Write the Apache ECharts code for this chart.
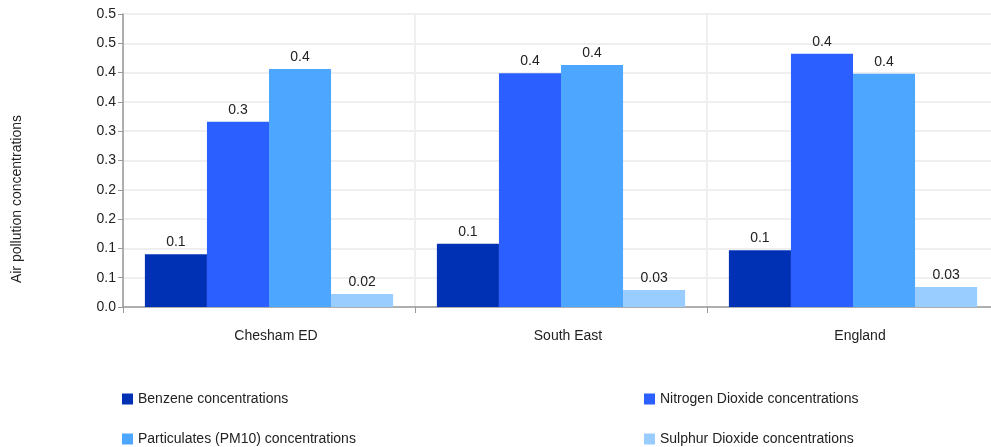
<!DOCTYPE html>
<html>
<head>
<meta charset="utf-8">
<script src="https://cdn.jsdelivr.net/npm/echarts@6/dist/echarts.min.js"></script>
<style>html,body{margin:0;padding:0;background:#fff;overflow:hidden}#chart{width:999px;height:447px}</style>
</head>
<body>
<div id="chart"></div>
<script>
const areas = ["Chesham ED", "South East", "England"];
const benzene = [0.090, 0.108, 0.097];
const nitrogenDioxide = [0.316, 0.399, 0.432];
const particulates = [0.406, 0.413, 0.398];
const sulphurDioxide = [0.022, 0.029, 0.034];
const yTickLabels = ["0.0", "0.1", "0.1", "0.2", "0.2", "0.3", "0.3", "0.4", "0.4", "0.5", "0.5"];
const seriesNames = ["Benzene concentrations", "Nitrogen Dioxide concentrations", "Particulates (PM10) concentrations", "Sulphur Dioxide concentrations"];

const colors = ["#0030b4", "#2c5fff", "#4da6ff", "#99ccff"];
const font = "Liberation Sans, Arial, sans-serif";
const valueLabel = v => { const r = Math.round(v * 10) / 10; return r === 0 ? v.toFixed(2) : r.toFixed(1); };

const chart = echarts.init(document.getElementById("chart"));
const bar = (name, data) => ({
  name, type: "bar", data, barGap: 0, barCategoryGap: "15%",
  label: { show: true, position: "top", distance: 5, color: "#222", fontFamily: font, fontSize: 14, formatter: p => valueLabel(p.value) },
});
// 2x2 legend: one component per item
const legendPos = [[117, 387], [639, 387], [117, 427], [639, 427]];
chart.setOption({
  animation: false,
  color: colors,
  textStyle: { fontFamily: font },
  grid: { left: 123, right: 0, top: 14, bottom: 140, containLabel: false },
  legend: seriesNames.map((name, i) => ({
    left: legendPos[i][0], top: legendPos[i][1], itemWidth: 11, itemHeight: 11, icon: "rect", itemGap: 0,
    textStyle: { fontSize: 14, color: "#222", fontFamily: font }, data: [name],
  })),
  graphic: [{
    type: "text", left: 10, top: 115, rotation: Math.PI / 2, silent: true,
    style: { text: "Air pollution concentrations", fontSize: 14, fill: "#222", fontFamily: font },
  }],
  xAxis: {
    type: "category", data: areas,
    axisLine: { lineStyle: { color: "#999", width: 1.5 } },
    axisTick: { show: true, length: 6, lineStyle: { color: "#999" } },
    axisLabel: { color: "#222", fontSize: 14, margin: 22, fontFamily: font, padding: [0, 0, 0, 14] },
    splitLine: { show: true, lineStyle: { color: "#efefef", width: 2 } },
  },
  yAxis: {
    type: "value", min: 0, max: 0.5, interval: 0.05,
    axisLine: { show: true, lineStyle: { color: "#999", width: 1.5 } },
    axisTick: { show: true, length: 5, lineStyle: { color: "#999" } },
    axisLabel: { color: "#222", fontSize: 14, margin: 7, fontFamily: font, formatter: v => yTickLabels[Math.round(v / 0.05)] },
    splitLine: { lineStyle: { color: "#efefef", width: 2 } },
  },
  series: seriesNames.map((name, i) => bar(name, [benzene, nitrogenDioxide, particulates, sulphurDioxide][i])),
});
</script>
</body>
</html>
